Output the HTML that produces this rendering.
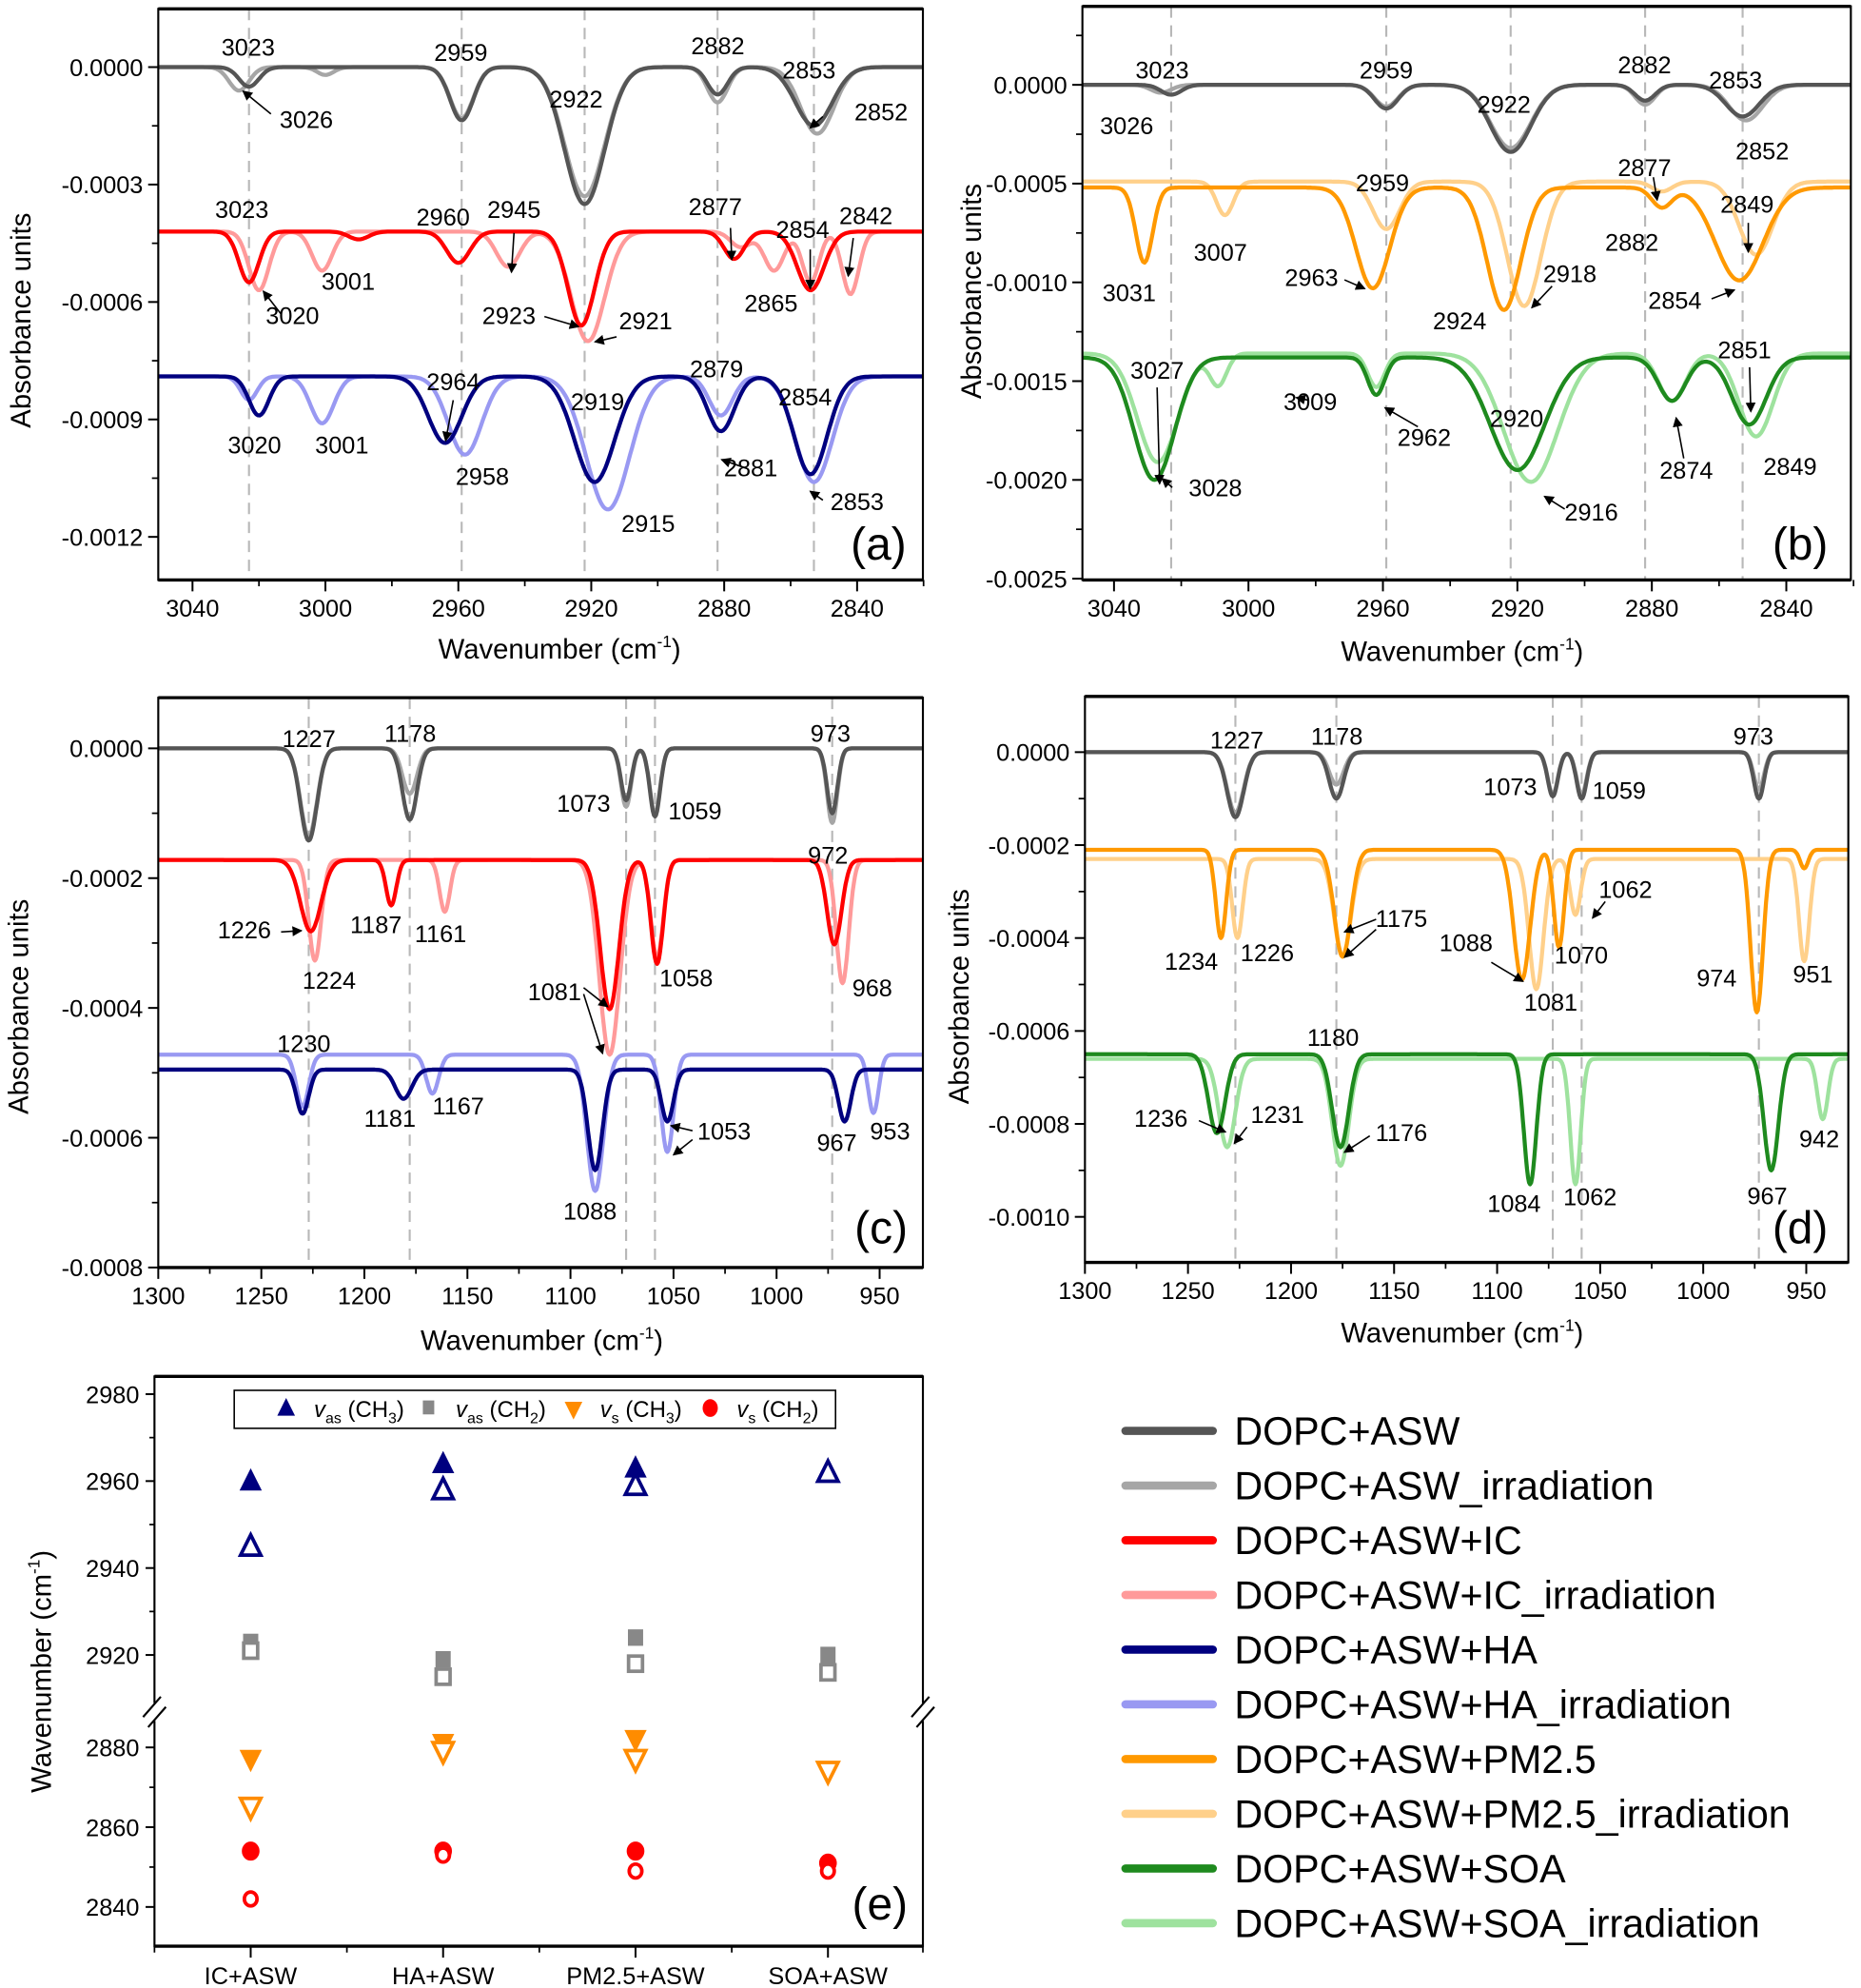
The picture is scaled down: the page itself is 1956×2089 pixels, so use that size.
<!DOCTYPE html>
<html><head><meta charset="utf-8"><style>
html,body{margin:0;padding:0;background:#fff;}
svg{display:block;font-family:"Liberation Sans",sans-serif;}
</style></head><body>
<svg id="fig" width="1956" height="2089" viewBox="0 0 1470 1570" xmlns="http://www.w3.org/2000/svg"></svg>
<script>
// ---------- DATA: panel (a) CH stretching ----------
const aBase=[0,0,-0.00042,-0.00042,-0.00079,-0.00079];
const a_asw_pk=[3023,2959,2922,2882,2853], a_asw_dp=[0.00005,0.000136,0.00035,0.00007,0.00015], a_asw_wd=[3,3.5,6,3,5.5];
const a_aswi_pk=[3026,3000,2959,2922,2882,2852], a_aswi_dp=[0.00006,0.00002,0.00013,0.00033,0.00009,0.00017], a_aswi_wd=[3,2.5,3.5,6,3,5];
const a_ic_pk=[3023,2990,2960,2923,2877,2854], a_ic_dp=[0.00013,0.00002,0.00008,0.00024,0.00007,0.00015], a_ic_wd=[3,3,3.5,4,3,4];
const a_ici_pk=[3020,3001,2945,2921,2875,2865,2854,2842], a_ici_dp=[0.00015,0.0001,0.00009,0.00028,0.00004,0.0001,0.00013,0.00016], a_ici_wd=[3,3,3.5,5,3,3,2.5,2.5];
const a_ha_pk=[3020,2964,2919,2881,2854], a_ha_dp=[0.0001,0.00017,0.00027,0.00014,0.00025], a_ha_wd=[3,5,6,4,5];
const a_hai_pk=[3023,3001,2958,2915,2881,2853], a_hai_dp=[0.00006,0.00012,0.0002,0.00034,0.0001,0.00027], a_hai_wd=[2.5,3.5,5,6.5,3.5,5.5];
// ---------- panel (b) ----------
const bBase=[0,0,-0.00052,-0.00049,-0.00138,-0.00136];
const b_asw_pk=[3023,2959,2922,2882,2853], b_asw_dp=[0.00005,0.00012,0.00034,0.00008,0.00016], b_asw_wd=[3,3.5,6,3,5];
const b_aswi_pk=[3026,2959,2922,2882,2852], b_aswi_dp=[0.00004,0.00011,0.00032,0.0001,0.00018], b_aswi_wd=[3,3.5,6,3,5];
const b_pm_pk=[3031,2963,2924,2877,2854], b_pm_dp=[0.00038,0.00051,0.00062,0.0001,0.00047], b_pm_wd=[2.5,5,5,3,7];
const b_pmi_pk=[3007,2959,2918,2877,2849], b_pmi_dp=[0.00017,0.00024,0.00063,0.00005,0.00037], b_pmi_wd=[2.5,4,5,3,5];
const b_soa_pk=[3028,2962,2920,2874,2851], b_soa_dp=[0.00062,0.00019,0.00057,0.00022,0.00034], b_soa_wd=[6,2.5,8,4,5];
const b_soai_pk=[3027,3009,2962,2916,2874,2849], b_soai_dp=[0.00055,0.00016,0.00017,0.00065,0.00024,0.00042], b_soai_wd=[6,2.5,2.5,8,4,5];
// ---------- panel (c) ----------
const cBase=[0,0,-0.000172,-0.000172,-0.000495,-0.000472];
const c_asw_pk=[1227,1178,1073,1059,973], c_asw_dp=[0.000142,0.00011,0.00008,0.000105,0.0001], c_asw_wd=[4,3.5,2.5,2.5,2.5];
const c_aswi_pk=[1227,1178,1073,1059,973], c_aswi_dp=[0.000135,0.00007,0.00009,0.0001,0.000115], c_aswi_wd=[4,3.5,2.5,2.5,2.5];
const c_ic_pk=[1226,1187,1081,1058,972], c_ic_dp=[0.00011,0.00007,0.00023,0.00016,0.00013], c_ic_wd=[5,2.5,4.5,3,3.5];
const c_ici_pk=[1224,1161,1081,1058,968], c_ici_dp=[0.000155,0.00008,0.0003,0.00015,0.00019], c_ici_wd=[3,2.5,5,3,3];
const c_ha_pk=[1230,1181,1088,1053,967], c_ha_dp=[0.000068,0.000045,0.000155,0.00008,0.00008], c_ha_wd=[3,4,3.5,3,3];
const c_hai_pk=[1230,1167,1088,1053,953], c_hai_dp=[0.00008,0.00006,0.00021,0.00015,0.00009], c_hai_wd=[3,3,4,3,2.5];
// ---------- panel (d) ----------
const dBase=[0,0,-0.00021,-0.00023,-0.00065,-0.00066];
const d_asw_pk=[1227,1178,1073,1059,973], d_asw_dp=[0.00014,0.0001,0.000095,0.0001,0.0001], d_asw_wd=[4,3.5,2.5,2.5,2.5];
const d_aswi_pk=[1227,1178,1073,1059,973], d_aswi_dp=[0.00013,0.00007,0.00009,0.00009,0.00008], d_aswi_wd=[4,3.5,2.5,2.5,2.5];
const d_pm_pk=[1234,1175,1088,1070,974,951], d_pm_dp=[0.00019,0.00023,0.00028,0.00021,0.00035,0.00004], d_pm_wd=[2.5,4,4,2.5,3,2];
const d_pmi_pk=[1226,1175,1081,1062,951], d_pmi_dp=[0.00017,0.00021,0.00028,0.00012,0.00022], d_pmi_wd=[2.5,4,3.5,2.5,2.5];
const d_soa_pk=[1236,1176,1084,967], d_soa_dp=[0.00017,0.0002,0.00028,0.00025], d_soa_wd=[4,4,3,3.5];
const d_soai_pk=[1231,1176,1062,942], d_soai_dp=[0.00019,0.00023,0.00027,0.00013], d_soai_wd=[4,4,2.5,2.5];
// ---------- panel (e) ----------
const eCats=["IC+ASW","HA+ASW","PM2.5+ASW","SOA+ASW"];
const eVasCH3=[2960,2964,2963,2962], eVasCH3irr=[2945,2958,2959,2962];
const eVasCH2=[2923,2919,2924,2920], eVasCH2irr=[2921,2915,2918,2916];
const eVsCH3=[2877,2881,2882,2874], eVsCH3irr=[2865,2879,2877,2874];
const eVsCH2=[2854,2854,2854,2851], eVsCH2irr=[2842,2853,2849,2849];
const eUpperTicks=[2920,2940,2960,2980], eLowerTicks=[2840,2860,2880];
const legendNames=["DOPC+ASW","DOPC+ASW_irradiation","DOPC+ASW+IC","DOPC+ASW+IC_irradiation","DOPC+ASW+HA","DOPC+ASW+HA_irradiation","DOPC+ASW+PM2.5","DOPC+ASW+PM2.5_irradiation","DOPC+ASW+SOA","DOPC+ASW+SOA_irradiation"];
const legendColors=["#555555","#a6a6a6","#ff0000","#ff9a9a","#00007f","#9999f2","#ff9900","#ffd08a","#1e8a1e","#9ee29e"];

const NS="http://www.w3.org/2000/svg";
const svg=document.getElementById('fig');
function mk(tag,attrs,parent){const e=document.createElementNS(NS,tag);for(const k in attrs)e.setAttribute(k,attrs[k]);(parent||svg).appendChild(e);return e;}
function txt(s,x,y,size,anchor,parent){const t=mk('text',{x:x,y:y,'font-size':size,'text-anchor':anchor||'middle',fill:'#000'},parent);t.textContent=s;return t;}

const defs=mk('defs',{});
const mrk=mk('marker',{id:'arr',markerWidth:8,markerHeight:8,refX:7,refY:4,orient:'auto',markerUnits:'userSpaceOnUse'},defs);
mk('path',{d:'M0,0 L8,4 L0,8 Z',fill:'#000'},mrk);

function panel(P){
  const g=mk('g',{});
  
  
  const sx=v=>P.x0+(P.d0-v)/(P.d0-P.d1)*(P.x1-P.x0);
  const sy=v=>P.yz-v*P.k;
  const clipId='clip'+P.id;
  const cp=mk('clipPath',{id:clipId},defs);
  mk('rect',{x:P.x0,y:P.top,width:P.x1-P.x0,height:P.bot-P.top},cp);
  // dashed reference lines
  P.dashes.forEach(d=>{
    const l=mk('line',{x1:sx(d),x2:sx(d),y1:P.top,y2:P.bot,stroke:'#b8b8b8','stroke-width':1.6,'stroke-dasharray':'9,6'},g);
    
    
  });
  // curves
  const cg=mk('g',{'clip-path':'url(#'+clipId+')'},g);
  P.series.forEach(s=>{
    let d='';
    for(let v=P.d0;v>=P.d1-0.5;v-=0.5){
      let y=s.base;
      for(let i=0;i<s.pk.length;i++){y-=s.dp[i]*Math.exp(-Math.pow(v-s.pk[i],2)/(2*s.wd[i]*s.wd[i]));}
      d+=(d?'L':'M')+sx(v).toFixed(1)+','+sy(y).toFixed(1);
    }
    const p=mk('path',{d:d,fill:'none',stroke:s.color,'stroke-width':3.2,'stroke-linejoin':'round'},cg);
    
    
  });
  // frame
  const fr=mk('rect',{x:P.x0,y:P.top,width:P.x1-P.x0,height:P.bot-P.top,fill:'none',stroke:'#000','stroke-width':1.6},g);
  
  
  mk('line',{x1:P.x0,x2:P.x1,y1:P.top,y2:P.top,stroke:'#000','stroke-width':2.5},g);
  mk('line',{x1:P.x0,x2:P.x1,y1:P.bot,y2:P.bot,stroke:'#000','stroke-width':2.5},g);
  // x ticks
  P.xt.forEach(v=>{
    mk('line',{x1:sx(v),x2:sx(v),y1:P.bot,y2:P.bot+9,stroke:'#000','stroke-width':1.5},g);
    const t=txt(String(v),sx(v),P.bot+29,19,'middle',g);
    
    
  });
  P.xm.forEach(v=>{mk('line',{x1:sx(v),x2:sx(v),y1:P.bot,y2:P.bot+5,stroke:'#000','stroke-width':1.3},g);});
  P.yt.forEach(v=>{
    mk('line',{x1:P.x0-8,x2:P.x0,y1:sy(v),y2:sy(v),stroke:'#000','stroke-width':1.5},g);
    const t=txt(v===0?'0.0000':'-'+Math.abs(v).toFixed(4),P.x0-12,sy(v)+7,19,'end',g);
    
    
  });
  P.ym.forEach(v=>{mk('line',{x1:P.x0-5,x2:P.x0,y1:sy(v),y2:sy(v),stroke:'#000','stroke-width':1.3},g);});
  // titles
  const xt=mk('text',{x:P.xtx,y:P.xty,'font-size':22,'text-anchor':'middle'},g);
  
  
  xt.innerHTML='Wavenumber (cm<tspan dy="-9" font-size="13">-1</tspan><tspan dy="9">)</tspan>';
  const yt=txt('Absorbance units',0,0,22,'middle',g);
  yt.setAttribute('transform','translate('+P.ytx+','+P.yty+') rotate(-90)');
  
  
  const pl=txt(P.label,P.lx,P.ly,36,'middle',g);
  
  
  P.ann.forEach(a=>{
    const t=txt(a[0],a[1],a[2],19,'middle',g);
    
    
  });
  (P.arrows||[]).forEach(a=>{
    const l=mk('line',{x1:a[0],y1:a[1],x2:a[2],y2:a[3],stroke:'#000','stroke-width':1.2,'marker-end':'url(#arr)'},g);
    
    
  });
}
function ser(name,color,base,pk,dp,wd){return {name:name,color:color,base:base,pk:pk,dp:dp,wd:wd};}
const C=legendColors;
const chX=[3040,3000,2960,2920,2880,2840], chM=[3020,2980,2940,2900,2860,2820];
const fpX=[1300,1250,1200,1150,1100,1050,1000,950], fpM=[1275,1225,1175,1125,1075,1025,975];

panel({id:'a',name:'panel-a',x0:125,x1:729,d0:3050.3,d1:2820.2,yz:53,k:309167,top:7,bot:458,
  dashes:[3023,2959,2922,2882,2853],xt:chX,xm:chM,
  yt:[0,-0.0003,-0.0006,-0.0009,-0.0012],ym:[-0.00015,-0.00045,-0.00075,-0.00105],
  xtx:442,xty:520,ytx:24,yty:253,label:'(a)',lx:694,ly:442,
  series:[ser('asw-irradiation-curve',C[1],aBase[1],a_aswi_pk,a_aswi_dp,a_aswi_wd),ser('asw-curve',C[0],aBase[0],a_asw_pk,a_asw_dp,a_asw_wd),
    ser('ic-irradiation-curve',C[3],aBase[3],a_ici_pk,a_ici_dp,a_ici_wd),ser('ic-curve',C[2],aBase[2],a_ic_pk,a_ic_dp,a_ic_wd),
    ser('ha-irradiation-curve',C[5],aBase[5],a_hai_pk,a_hai_dp,a_hai_wd),ser('ha-curve',C[4],aBase[4],a_ha_pk,a_ha_dp,a_ha_wd)],
  ann:[['3023',196,44],['3026',242,101],['2959',364,48],['2922',455,85],['2882',567,43],['2853',639,62],['2852',696,95],
    ['3023',191,172],['3020',231,256],['3001',275,229],['2960',350,178],['2945',406,172],['2923',402,256],['2921',510,260],['2877',565,170],['2854',634,188],['2865',609,246],['2842',684,177],
    ['2964',358,308],['3020',201,358],['3001',270,358],['2958',381,383],['2919',472,324],['2879',566,298],['2854',636,320],['2881',593,376],['2915',512,420],['2853',677,403]],
  arrows:[[214,90,192,72],[650,92,640,101],[222,248,208,230],[430,250,457,258],[487,266,470,270],[406,184,404,215],[577,180,578,205],[640,197,640,228],[674,188,670,218],[358,316,352,348],[590,370,570,363],[650,395,640,388]]
});
panel({id:'b',name:'panel-b',x0:855,x1:1462,d0:3049.4,d1:2820.8,yz:67,k:156000,top:5,bot:458,
  dashes:[3023,2959,2922,2882,2853],xt:chX,xm:chM,
  yt:[0,-0.0005,-0.001,-0.0015,-0.002,-0.0025],ym:[0.00025,-0.00025,-0.00075,-0.00125,-0.00175,-0.00225],
  xtx:1155,xty:522,ytx:775,yty:230,label:'(b)',lx:1422,ly:442,
  series:[ser('asw-irradiation-curve',C[1],bBase[1],b_aswi_pk,b_aswi_dp,b_aswi_wd),ser('asw-curve',C[0],bBase[0],b_asw_pk,b_asw_dp,b_asw_wd),
    ser('pm25-irradiation-curve',C[7],bBase[3],b_pmi_pk,b_pmi_dp,b_pmi_wd),ser('pm25-curve',C[6],bBase[2],b_pm_pk,b_pm_dp,b_pm_wd),
    ser('soa-irradiation-curve',C[9],bBase[5],b_soai_pk,b_soai_dp,b_soai_wd),ser('soa-curve',C[8],bBase[4],b_soa_pk,b_soa_dp,b_soa_wd)],
  ann:[['3023',918,62],['3026',890,106],['2959',1095,62],['2922',1188,89],['2882',1299,58],['2853',1371,70],['2852',1392,126],
    ['2959',1092,151],['2877',1299,139],['2849',1380,168],['3031',892,238],['3007',964,206],['2963',1036,226],['2882',1289,198],['2918',1240,223],['2924',1153,260],['2854',1323,244],
    ['3027',914,299],['3009',1035,324],['2962',1125,352],['2920',1198,337],['2851',1378,283],['2874',1332,378],['2849',1414,375],['3028',960,392],['2916',1257,411]],
  arrows:[[1062,221,1078,228],[1226,226,1210,243],[1352,236,1370,229],[1306,140,1309,158],[1381,176,1381,199],[914,306,916,382],[926,385,918,378],[1033,316,1024,314],[1120,337,1094,322],[1236,402,1220,392],[1330,362,1324,330],[1382,290,1383,325]]
});
panel({id:'c',name:'panel-c',x0:125,x1:729,d0:1300,d1:929,yz:591,k:512500,top:551,bot:1001,
  dashes:[1227,1178,1073,1059,973],xt:fpX,xm:fpM,
  yt:[0,-0.0002,-0.0004,-0.0006,-0.0008],ym:[-0.0001,-0.0003,-0.0005,-0.0007],
  xtx:428,xty:1066,ytx:22,yty:795,label:'(c)',lx:696,ly:982,
  series:[ser('asw-irradiation-curve',C[1],cBase[1],c_aswi_pk,c_aswi_dp,c_aswi_wd),ser('asw-curve',C[0],cBase[0],c_asw_pk,c_asw_dp,c_asw_wd),
    ser('ic-irradiation-curve',C[3],cBase[3],c_ici_pk,c_ici_dp,c_ici_wd),ser('ic-curve',C[2],cBase[2],c_ic_pk,c_ic_dp,c_ic_wd),
    ser('ha-irradiation-curve',C[5],cBase[5],c_hai_pk,c_hai_dp,c_hai_wd),ser('ha-curve',C[4],cBase[4],c_ha_pk,c_ha_dp,c_ha_wd)],
  ann:[['1227',244,590],['1178',324,586],['973',656,586],['1073',461,641],['1059',549,647],['972',654,682],['1226',193,741],['1187',297,737],['1161',348,744],['1224',260,781],['1081',438,790],['1058',542,779],['968',689,787],['1230',240,831],['1181',308,890],['1167',362,880],['1053',572,900],['967',661,909],['953',703,900],['1088',466,963]],
  arrows:[[222,736,238,735],[461,780,480,795],[461,785,476,832],[547,893,530,889],[547,900,532,912]]
});
panel({id:'d',name:'panel-d',x0:857,x1:1460,d0:1300,d1:929.6,yz:594,k:367000,top:550,bot:997,
  dashes:[1227,1178,1073,1059,973],xt:fpX,xm:fpM,
  yt:[0,-0.0002,-0.0004,-0.0006,-0.0008,-0.001],ym:[-0.0001,-0.0003,-0.0005,-0.0007,-0.0009],
  xtx:1155,xty:1060,ytx:765,yty:787,label:'(d)',lx:1422,ly:982,
  series:[ser('asw-irradiation-curve',C[1],dBase[1],d_aswi_pk,d_aswi_dp,d_aswi_wd),ser('asw-curve',C[0],dBase[0],d_asw_pk,d_asw_dp,d_asw_wd),
    ser('pm25-irradiation-curve',C[7],dBase[3],d_pmi_pk,d_pmi_dp,d_pmi_wd),ser('pm25-curve',C[6],dBase[2],d_pm_pk,d_pm_dp,d_pm_wd),
    ser('soa-irradiation-curve',C[9],dBase[5],d_soai_pk,d_soai_dp,d_soai_wd),ser('soa-curve',C[8],dBase[4],d_soa_pk,d_soa_dp,d_soa_wd)],
  ann:[['1227',977,591],['1178',1056,588],['973',1385,588],['1073',1193,628],['1059',1279,631],['1062',1284,709],['1175',1107,732],['1088',1158,751],['1070',1249,761],['1234',941,766],['1226',1001,759],['974',1356,779],['951',1432,776],['1081',1225,798],['1180',1053,826],['1236',917,890],['1231',1009,887],['1176',1107,901],['942',1437,906],['1084',1196,957],['1062',1256,952],['967',1396,951]],
  arrows:[[1087,726,1062,736],[1087,734,1062,756],[1178,760,1203,775],[1268,712,1258,725],[947,885,968,894],[985,890,975,903],[1082,897,1062,910]]
});

// ---------- panel (e) ----------
(function(){
  const g=mk('g',{});
  
  
  const X0=122,X1=729,TOP=1087,BOT=1537;
  const cx=i=>198+i*152;
  const sy=v=> v>2900 ? 1101+(2980-v)*(206/60) : 1380+(2880-v)*(126/40);
  mk('rect',{x:X0,y:TOP,width:X1-X0,height:BOT-TOP,fill:'none',stroke:'#000','stroke-width':1.6},g);
  mk('line',{x1:X0,x2:X1,y1:TOP,y2:TOP,stroke:'#000','stroke-width':2.5},g);
  mk('line',{x1:X0,x2:X1,y1:BOT,y2:BOT,stroke:'#000','stroke-width':2.5},g);
  // axis break
  [X0,X1].forEach(x=>{
    mk('rect',{x:x-5,y:1345,width:10,height:14,fill:'#fff'},g);
    mk('line',{x1:x-9,y1:1356,x2:x+5,y2:1340,stroke:'#000','stroke-width':1.6},g);
    mk('line',{x1:x-5,y1:1364,x2:x+9,y2:1348,stroke:'#000','stroke-width':1.6},g);
  });
  eUpperTicks.concat(eLowerTicks).forEach(v=>{
    mk('line',{x1:X0-7,x2:X0,y1:sy(v),y2:sy(v),stroke:'#000','stroke-width':1.5},g);
    const t=txt(String(v),X0-12,sy(v)+7,19,'end',g);
    
    
  });
  [2930,2950,2970,2850,2870].forEach(v=>{mk('line',{x1:X0-4,x2:X0,y1:sy(v),y2:sy(v),stroke:'#000','stroke-width':1.3},g);});
  eCats.forEach((c,i)=>{
    mk('line',{x1:cx(i),x2:cx(i),y1:BOT,y2:BOT+9,stroke:'#000','stroke-width':1.5},g);
    const t=txt(c,cx(i),1567,19,'middle',g);
    
    
  });
  [122,274,426,578,729].forEach(x=>mk('line',{x1:x,x2:x,y1:BOT,y2:BOT+5,stroke:'#000','stroke-width':1.3},g));
  const yt=txt('',0,0,22,'middle',g);
  yt.setAttribute('transform','translate(40,1320) rotate(-90)');
  
  
  yt.innerHTML='Wavenumber (cm<tspan dy="-9" font-size="13">-1</tspan><tspan dy="9">)</tspan>';
  const pl=txt('(e)',695,1516,36,'middle',g);
  
  
  function tri(x,y,up,col,fill){
    const h=14,w=8;
    const d=up?`M${x},${y-h/2-2}L${x+w},${y+h/2}L${x-w},${y+h/2}Z`:`M${x},${y+h/2+2}L${x+w},${y-h/2}L${x-w},${y-h/2}Z`;
    return mk('path',{d:d,fill:fill?col:'#fff',stroke:col,'stroke-width':fill?1:2.8},g);
  }
  function sq(x,y,col,fill){return mk('rect',{x:x-5.5,y:y-6,width:11,height:12,fill:fill?col:'#fff',stroke:col,'stroke-width':fill?1:2.8},g);}
  function ci(x,y,col,fill){return mk('ellipse',{cx:x,cy:y,rx:fill?6.5:5,ry:fill?7:5.5,fill:fill?col:'#fff',stroke:col,'stroke-width':fill?1:2.8},g);}
  const blue='#00007f',grey='#888888',orng='#ff8c00',red='#ff0000';
  eCats.forEach((c,i)=>{
    let m;
    m=sq(cx(i),sy(eVasCH2[i]),grey,true);
    m=sq(cx(i),sy(eVasCH2irr[i]),grey,false);
    m=tri(cx(i),sy(eVasCH3[i]),true,blue,true);
    m=tri(cx(i),sy(eVasCH3irr[i]),true,blue,false);
    m=tri(cx(i),sy(eVsCH3[i]),false,orng,true);
    m=tri(cx(i),sy(eVsCH3irr[i]),false,orng,false);
    m=ci(cx(i),sy(eVsCH2[i]),red,true);
    m=ci(cx(i),sy(eVsCH2irr[i]),red,false);
  });
  // inner legend
  const lg=mk('g',{},g);
  
  
  mk('rect',{x:185,y:1098,width:475,height:30,fill:'#fff',stroke:'#000','stroke-width':1.2},lg);
  mk('path',{d:'M226,1104L233,1118L219,1118Z',fill:blue},lg);
  mk('rect',{x:334,y:1106,width:9,height:11,fill:grey},lg);
  mk('path',{d:'M446,1107L460,1107L453,1121Z',fill:orng},lg);
  mk('ellipse',{cx:561,cy:1112,rx:6,ry:7,fill:red},lg);
  const lab=[[248,'as','3'],[360,'as','2'],[474,'s','3'],[582,'s','2']];
  lab.forEach(l=>{
    const t=mk('text',{x:l[0],y:1119,'font-size':18},lg);
    t.innerHTML=`<tspan font-style="italic">v</tspan><tspan dy="5" font-size="12">${l[1]}</tspan><tspan dy="-5"> (CH</tspan><tspan dy="5" font-size="12">${l[2]}</tspan><tspan dy="-5">)</tspan>`;
  });
})();

// ---------- main legend ----------
legendNames.forEach((n,i)=>{
  const y=1130+i*43.2;
  const l=mk('line',{x1:889,x2:958,y1:y,y2:y,stroke:legendColors[i],'stroke-width':6.5,'stroke-linecap':'round'});
  
  
  const t=txt(n,975,y+11,31,'start');
  
  
});
</script>
</body></html>
